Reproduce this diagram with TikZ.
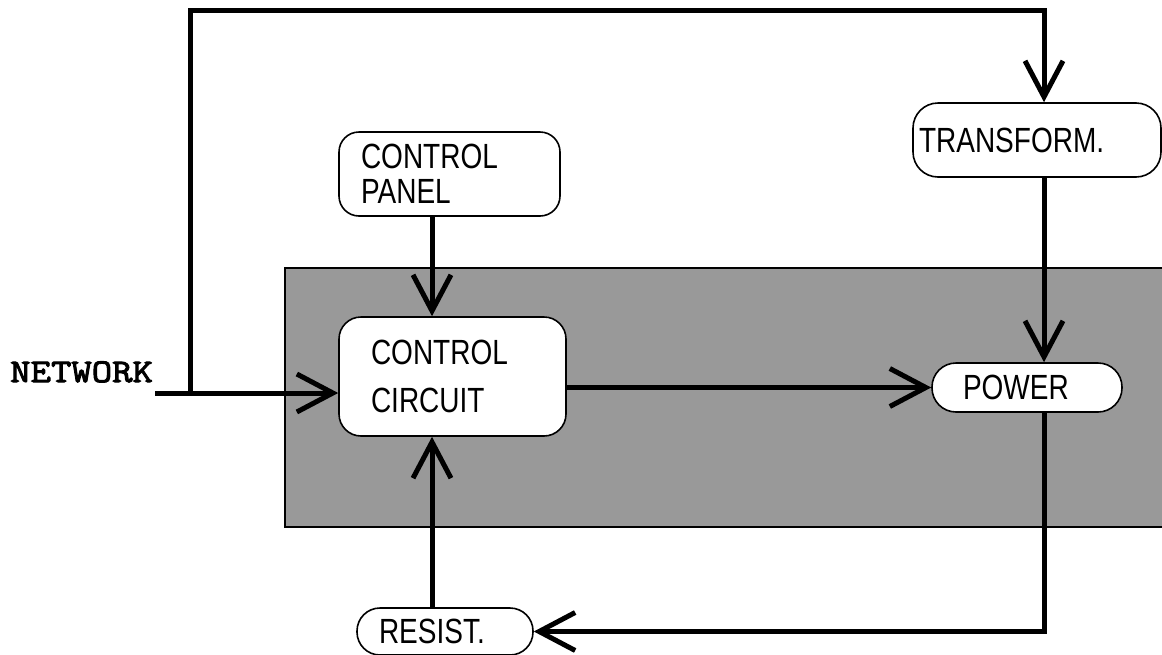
\documentclass[tikz,border=0pt]{standalone}
\usepackage{fontspec}
\setmainfont[FakeStretch=0.8]{Liberation Sans}
\newfontfamily\netfont[FakeBold=3,FakeStretch=1.2]{Latin Modern Mono}
\usetikzlibrary{arrows.meta}

\begin{document}
\begin{tikzpicture}[x=1pt,y=-1pt,
    box/.style={draw, line width=1.6pt, fill=white, align=left, inner ysep=0pt,
        font=\fontsize{35}{35}\selectfont},
    flow/.style={line width=5pt, -{Straight Barb[length=36pt,width=38pt]}}]
\def \rail {1044}
\def \spine {432}

% page and shaded unit
\clip (0,0) rectangle (1162,654);
\draw[fill=black!40, line width=1.6pt] (285,268) rectangle (1180,527);

% the blocks
\node (panel) [box, rounded corners=20pt, text width=177pt, inner xsep=22pt,
    minimum height=84pt] at (449.5,174) {CONTROL\\PANEL};
\node (circuit) [box, rounded corners=22pt, text width=163pt, inner xsep=32pt,
    minimum height=119pt, font=\fontsize{35}{48}\selectfont] at (452.5,376.5)
    {CONTROL\\CIRCUIT};
\node (transform) [box, rounded corners=25pt, text width=236pt, inner xsep=6pt,
    minimum height=74pt] at (1037,140) {TRANSFORM.};
\node (power) [box, rounded corners=24pt, text width=128pt, inner xsep=31pt,
    minimum height=49pt] at (1027,387.5) {POWER};
\node (resist) [box, rounded corners=23pt, text width=132pt, inner xsep=22pt,
    minimum height=47pt] at (445,631.5) {RESIST.};

% network input
\node (netlabel) [anchor=base west, inner sep=0pt,
    font=\netfont\fontsize{33}{35}\selectfont] at (10,382) {NETWORK};
\coordinate (net) at (155,393);
\coordinate (split) at (190,393);
\coordinate (top) at (\rail,10);

% connectors
\draw[flow] (net) -- (net -| circuit.west);
\draw[flow] (split) |- (top) -- (top |- transform.north);
\draw[flow] (\spine,0 |- panel.south) -- (\spine,0 |- circuit.north);
\draw[flow] (circuit.east |- power.west) -- (power.west);
\draw[flow] (\rail,0 |- transform.south) -- (\rail,0 |- power.north);
\draw[flow] (\rail,0 |- power.south) |- (resist.east);
\draw[flow] (\spine,0 |- resist.north) -- (\spine,0 |- circuit.south);

\end{tikzpicture}
\end{document}
